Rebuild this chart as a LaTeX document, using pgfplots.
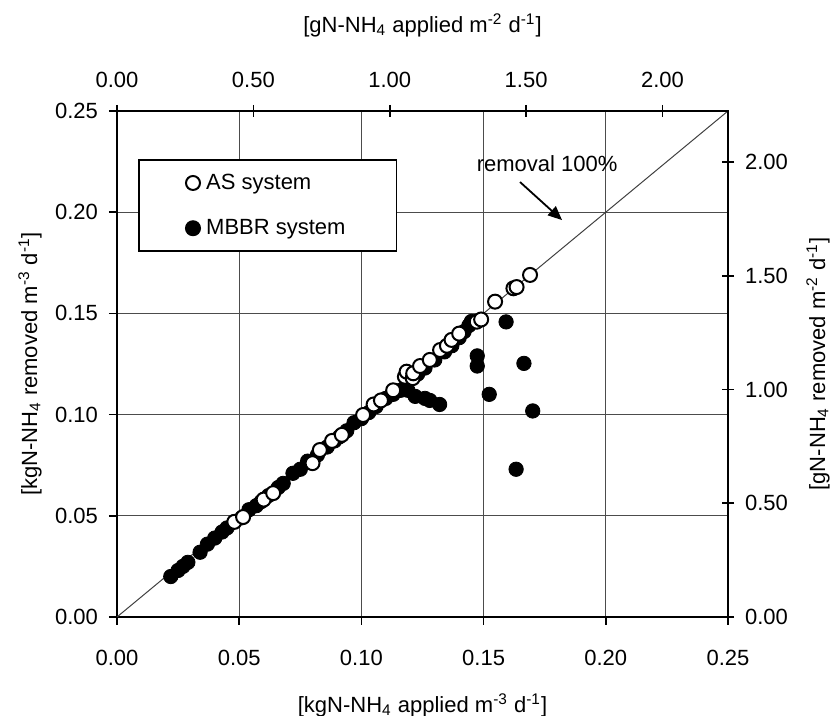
\documentclass[border=0pt]{standalone}
\usepackage{fontspec}
\setmainfont{Liberation Sans}
\usepackage{pgfplots}
\pgfplotsset{compat=1.18}
\usetikzlibrary{arrows.meta}

\newcommand{\lblfont}{\fontsize{11}{13}\selectfont}

\begin{document}
\begin{tikzpicture}
\pgfplotsset{
  every axis/.append style={
    scale only axis, width=305.5pt, height=253pt,
    tick label style={font=\lblfont},
    label style={font=\lblfont},
    /pgf/number format/.cd, fixed, fixed zerofill, precision=2, assume math mode=true,
  },
}
\begin{axis}[
  name=main,
  xmin=0, xmax=0.25, ymin=0, ymax=0.25,
  xtick={0,0.05,0.10,0.15,0.20,0.25},
  ytick={0,0.05,0.10,0.15,0.20,0.25},
  scaled ticks=false,
  xtick pos=bottom, ytick pos=left,
  tick align=outside, major tick length=4pt,
  tick style={black, line width=0.8pt},
  axis line style={line width=1pt},
  grid=major,
  major grid style={black!70, line width=0.6pt},
  xticklabel style={yshift=-9pt},
  yticklabel style={xshift=-2pt},
  xlabel={[kgN-NH\textsubscript{4} applied m\textsuperscript{-3} d\textsuperscript{-1}]},
  ylabel={[kgN-NH\textsubscript{4} removed m\textsuperscript{-3} d\textsuperscript{-1}]},
  xlabel style={at={([yshift=-44pt]rel axis cs:0.5,0)}, anchor=center},
  ylabel style={at={([xshift=-43.5pt]rel axis cs:0,0.5)}, anchor=center},
  legend image code/.code={\draw[#1] plot coordinates {(0pt,0pt)};},
  reverse legend,
  legend cell align=left,
  legend style={at={(rel axis cs:0,1)}, anchor=north west, xshift=10.5pt, yshift=-24pt,
    draw=black, line width=0.8pt, inner xsep=23.5pt, inner ysep=5pt, row sep=9.5pt,
    column sep=1pt,
    font=\lblfont, nodes={inner xsep=2pt, inner ysep=2pt}},
]
\coordinate (sw) at (rel axis cs:0,0);
\coordinate (ne) at (rel axis cs:1,1);

% 100% removal line
\addplot[black!75, line width=0.5pt, forget plot] coordinates {(0,0) (0.25,0.25)};

% MBBR system
\addplot[only marks, mark=*, mark size=3.6pt, black] coordinates {
  (0.022,0.020) (0.025,0.023) (0.027,0.025) (0.029,0.027) (0.034,0.032)
  (0.037,0.036) (0.040,0.039) (0.043,0.042) (0.045,0.044) (0.048,0.047)
  (0.051,0.049) (0.054,0.053) (0.057,0.055) (0.059,0.057) (0.062,0.060)
  (0.066,0.064) (0.068,0.066) (0.072,0.071) (0.075,0.073) (0.078,0.077)
  (0.082,0.080) (0.086,0.084) (0.089,0.087) (0.091,0.089) (0.094,0.092)
  (0.097,0.096) (0.100,0.098) (0.103,0.101) (0.106,0.104) (0.110,0.108)
  (0.113,0.110) (0.116,0.112) (0.119,0.117) (0.123,0.120) (0.126,0.123)
  (0.130,0.127) (0.134,0.131) (0.137,0.134) (0.140,0.138) (0.142,0.141)
  (0.144,0.144) (0.145,0.146)
  (0.119,0.112) (0.122,0.109) (0.126,0.108) (0.128,0.107) (0.132,0.105)
  (0.1474,0.129) (0.1474,0.124) (0.1592,0.1458) (0.1665,0.1253)
  (0.1523,0.1100) (0.1701,0.1018) (0.1633,0.0730)
};
\addlegendentry{MBBR system}

% AS system
\addplot[only marks, mark=*, mark size=3.5pt, mark options={draw=black, fill=white, line width=1pt}] coordinates {
  (0.048,0.047) (0.0516,0.0494) (0.060,0.058) (0.0639,0.0612) (0.080,0.076)
  (0.083,0.0825) (0.088,0.087) (0.092,0.090) (0.1007,0.0998) (0.105,0.105)
  (0.108,0.107) (0.113,0.112) (0.1178,0.1187) (0.1185,0.1212) (0.121,0.118)
  (0.1212,0.1204) (0.124,0.124) (0.128,0.127) (0.1322,0.1319) (0.135,0.134)
  (0.1369,0.1369) (0.140,0.140) (0.1472,0.1459) (0.149,0.147) (0.1547,0.1558)
  (0.1622,0.1624) (0.1635,0.163) (0.169,0.169)
};
\addlegendentry{AS system}

\draw[-{Triangle[length=7pt,width=6pt]}, line width=0.9pt] (axis cs:0.1649,0.2149) -- (axis cs:0.1821,0.1961);
\node[font=\lblfont] at (axis cs:0.176,0.2238) {removal 100\%};
\end{axis}

\begin{axis}[
  xmin=0, xmax=2.24, ymin=0, ymax=2.225,
  axis x line*=top, axis y line*=right,
  xtick={0,0.5,1,1.5,2}, ytick={0,0.5,1,1.5,2},
  tick align=center, major tick length=6pt,
  tick style={black, line width=0.8pt},
  axis line style={line width=1pt, -},
  xticklabel style={yshift=5pt},
  yticklabel style={xshift=2pt},
  xlabel={[gN-NH\textsubscript{4} applied m\textsuperscript{-2} d\textsuperscript{-1}]},
  ylabel={[gN-NH\textsubscript{4} removed m\textsuperscript{-2} d\textsuperscript{-1}]},
  xlabel style={at={([yshift=43pt]rel axis cs:0.5,1)}, anchor=center},
  ylabel style={at={([xshift=45pt]rel axis cs:1,0.5)}, anchor=center},
]
\end{axis}

\pgfresetboundingbox
\path ([shift={(-58.5pt,-49.5pt)}]sw) rectangle ([shift={(51.5pt,55.5pt)}]ne);
\end{tikzpicture}
\end{document}
